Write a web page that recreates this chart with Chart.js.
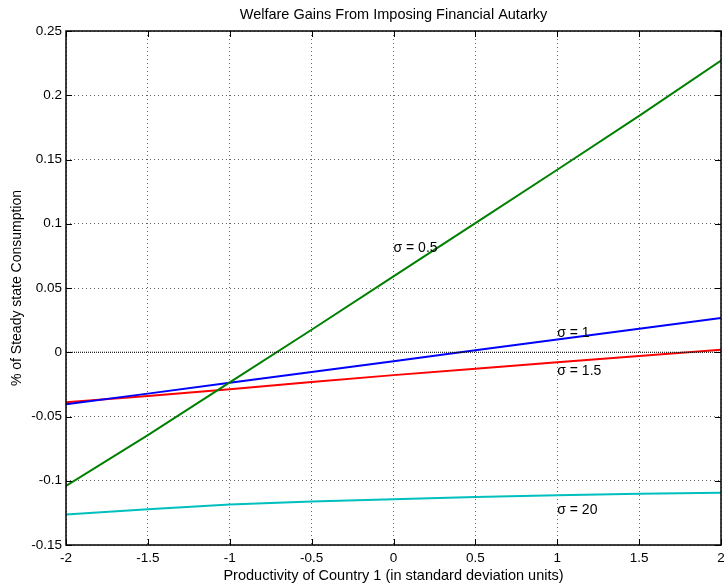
<!DOCTYPE html>
<html>
<head>
<meta charset="utf-8">
<script src="https://cdn.jsdelivr.net/npm/chart.js@4"></script>
<style>
  html, body { margin: 0; padding: 0; background: #fff; }
  #wrap { width: 727px; height: 585px; }
</style>
</head>
<body>
<div id="wrap"><canvas id="c" width="727" height="585"></canvas></div>
<script>
// Productivity of country 1, in standard deviation units
const productivity = [-2, -1.5, -1, -0.5, 0, 0.5, 1, 1.5, 2];

// Welfare gain from autarky, % of steady state consumption, for each sigma
const gainSigma05 = [-0.104, -0.0645, -0.0235, 0.0175, 0.059, 0.1005, 0.142, 0.184, 0.227];
const gainSigma1  = [-0.0405, -0.0322, -0.0238, -0.0153, -0.007, 0.0015, 0.010, 0.0183, 0.0267];
const gainSigma15 = [-0.039, -0.034, -0.0287, -0.0232, -0.0178, -0.0128, -0.0078, -0.003, 0.002];
const gainSigma20 = [-0.1262, -0.1221, -0.1185, -0.1162, -0.1143, -0.1126, -0.1113, -0.1102, -0.1094];
const zeroLine    = [0, 0];

const xTicks = [-2, -1.5, -1, -0.5, 0, 0.5, 1, 1.5, 2];
const yTicks = [-0.15, -0.1, -0.05, 0, 0.05, 0.1, 0.15, 0.2, 0.25];

const seriesNames = ['\u03c3 = 0.5', '\u03c3 = 1', '\u03c3 = 1.5', '\u03c3 = 20'];

const FONT = '"Liberation Sans", Arial, Helvetica, sans-serif';

const toXY = (ys, xs) => ys.map((y, i) => ({ x: xs[i], y }));

// text labels placed next to each curve (data coordinates)
const curveLabels = [
  { text: seriesNames[0], x: 0.0, y: 0.081 },
  { text: seriesNames[1], x: 1.0, y: 0.0145 },
  { text: seriesNames[2], x: 1.0, y: -0.0145 },
  { text: seriesNames[3], x: 1.0, y: -0.123 }
];

// box, inward ticks, title and curve labels
const framePlugin = {
  id: 'frame',
  afterDraw(chart) {
    const { ctx, chartArea: a, scales } = chart;
    const tl = 6;
    ctx.save();
    ctx.strokeStyle = '#000';
    ctx.lineWidth = 1;
    ctx.beginPath();
    xTicks.forEach(v => {
      const px = Math.round(scales.x.getPixelForValue(v)) + 0.5;
      ctx.moveTo(px, a.bottom); ctx.lineTo(px, a.bottom - tl);
      ctx.moveTo(px, a.top); ctx.lineTo(px, a.top + tl);
    });
    yTicks.forEach(v => {
      const py = Math.round(scales.y.getPixelForValue(v)) + 0.5;
      ctx.moveTo(a.left, py); ctx.lineTo(a.left + tl, py);
      ctx.moveTo(a.right, py); ctx.lineTo(a.right - tl, py);
    });
    ctx.stroke();
    ctx.lineWidth = 1.5;
    ctx.strokeRect(a.left, a.top, a.right - a.left, a.bottom - a.top);

    ctx.fillStyle = '#000';
    ctx.font = '14.5px ' + FONT;
    ctx.textAlign = 'center';
    ctx.textBaseline = 'middle';
    ctx.fillText('Welfare Gains From Imposing Financial Autarky', (a.left + a.right) / 2, 15);

    ctx.font = '14px ' + FONT;
    ctx.textAlign = 'left';
    curveLabels.forEach(l => {
      ctx.fillText(l.text, scales.x.getPixelForValue(l.x), scales.y.getPixelForValue(l.y));
    });
    ctx.restore();
  }
};

const lineDs = (label, ys, color) => ({
  label,
  data: toXY(ys, productivity),
  borderColor: color,
  backgroundColor: color,
  borderWidth: 2,
  pointRadius: 0,
  tension: 0,
  fill: false
});

new Chart(document.getElementById('c'), {
  type: 'line',
  data: {
    datasets: [
      {
        label: 'zero',
        data: toXY(zeroLine, [-2, 2]),
        borderColor: '#000',
        borderWidth: 1,
        borderDash: [1, 1],
        pointRadius: 0,
        fill: false
      },
      lineDs(seriesNames[0], gainSigma05, '#008000'),
      lineDs(seriesNames[1], gainSigma1, '#0000ff'),
      lineDs(seriesNames[2], gainSigma15, '#ff0000'),
      lineDs(seriesNames[3], gainSigma20, '#00bfbf')
    ]
  },
  options: {
    responsive: false,
    animation: false,
    devicePixelRatio: 1,
    layout: { padding: { top: 31, right: 6, left: 0, bottom: 0 } },
    plugins: {
      legend: { display: false },
      title: { display: false },
      tooltip: { enabled: false }
    },
    scales: {
      x: {
        type: 'linear',
        min: -2, max: 2,
        afterBuildTicks: s => { s.ticks = xTicks.map(v => ({ value: v })); },
        afterFit: s => { s.height = 40; s.paddingLeft = 0; s.paddingRight = 0; },
        ticks: {
          color: '#000',
          font: { family: FONT, size: 13.5 },
          padding: 5,
          maxRotation: 0,
          callback: v => String(v)
        },
        grid: { color: '#666', lineWidth: 1, drawTicks: false },
        border: { display: false, dash: [1, 3] },
        title: {
          display: true,
          text: 'Productivity of Country 1 (in standard deviation units)',
          color: '#000',
          font: { family: FONT, size: 14.5 },
          padding: { top: 0, bottom: 0 }
        }
      },
      y: {
        type: 'linear',
        min: -0.15, max: 0.25,
        afterBuildTicks: s => { s.ticks = yTicks.map(v => ({ value: v })); },
        afterFit: s => { s.width = 66; s.paddingTop = 0; s.paddingBottom = 0; },
        ticks: {
          color: '#000',
          font: { family: FONT, size: 13.5 },
          padding: 4,
          callback: v => String(Math.round(v * 100) / 100)
        },
        grid: { color: '#666', lineWidth: 1, drawTicks: false },
        border: { display: false, dash: [1, 3] },
        title: {
          display: true,
          text: '% of Steady state Consumption',
          color: '#000',
          font: { family: FONT, size: 14 },
          padding: { top: 9, bottom: 0 }
        }
      }
    }
  },
  plugins: [framePlugin]
});
</script>
</body>
</html>
